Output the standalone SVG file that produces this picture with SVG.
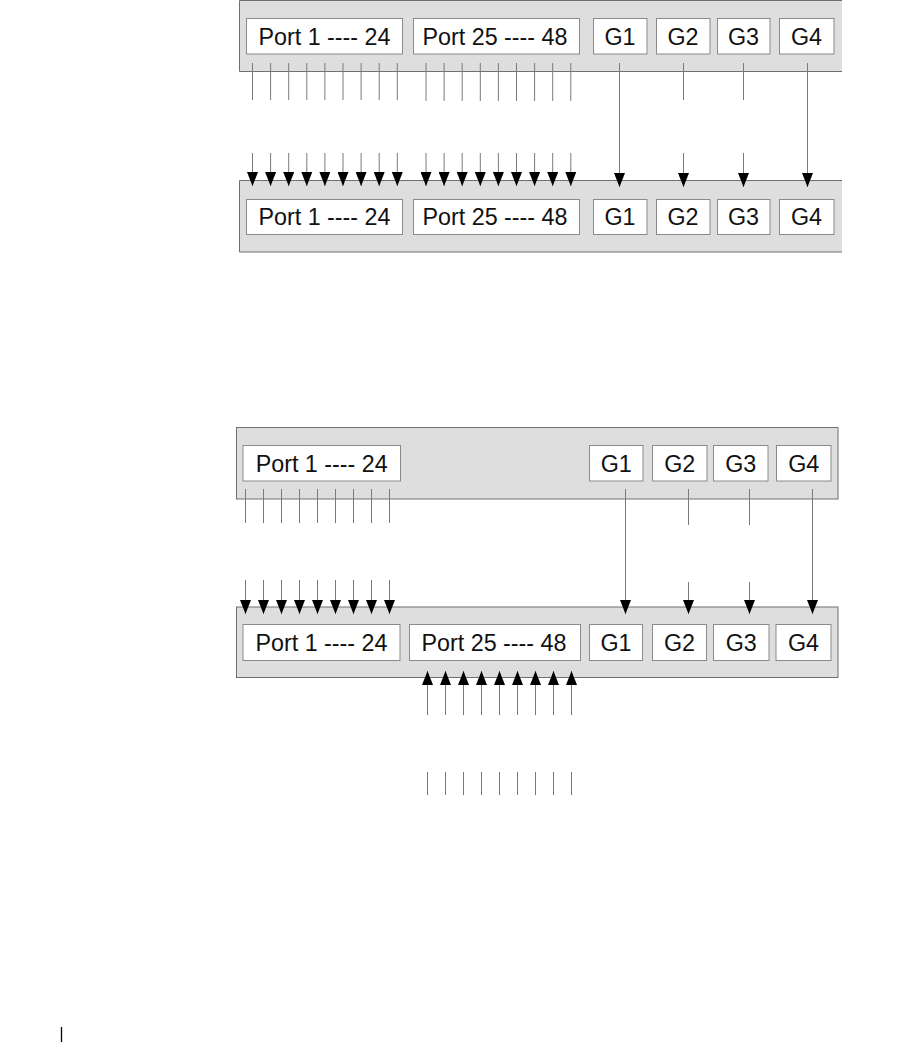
<svg xmlns="http://www.w3.org/2000/svg" width="900" height="1042" viewBox="0 0 900 1042">
<style>
.sw{fill:#dedede;stroke:#707070;stroke-width:1}
.swo{fill:none;stroke:#707070;stroke-width:1}
.swf{fill:#dedede;stroke:none}
.bx{fill:#ffffff;stroke:#8a8a8a;stroke-width:1}
.t{font-family:"Liberation Sans",Arial,sans-serif;font-size:23.3px;fill:#111;text-anchor:middle}
.c{stroke:#7a7a7a;stroke-width:1;fill:none}
.a{stroke:#7a7a7a;stroke-width:1;fill:none;marker-end:url(#ah)}
</style>
<defs>
<marker id="ah" markerUnits="userSpaceOnUse" markerWidth="14" markerHeight="11" viewBox="0 0 14 11" refX="14" refY="5.5" orient="auto">
<path d="M0,0 L14,5.5 L0,11 Z" fill="#000"/>
</marker>
</defs>
<rect width="900" height="1042" fill="#fff"/>

<g id="switch-a">
<rect class="swf" x="239.5" y="0.5" width="602.5" height="71"/>
<path class="swo" d="M842,0.5 H239.5 V71.5 H842"/>
<g id="a-p1"><rect class="bx" x="246.5" y="18.5" width="156" height="35.5"/><text class="t" x="324.5" y="44.5">Port 1 ---- 24</text></g>
<g id="a-p25"><rect class="bx" x="413.5" y="18.5" width="166" height="35.5"/><text class="t" x="495" y="44.5">Port 25 ---- 48</text></g>
<g id="a-g1"><rect class="bx" x="593.5" y="18.5" width="53.5" height="35.5"/><text class="t" x="620" y="44.5">G1</text></g>
<g id="a-g2"><rect class="bx" x="656.5" y="18.5" width="53.5" height="35.5"/><text class="t" x="683" y="44.5">G2</text></g>
<g id="a-g3"><rect class="bx" x="717.5" y="18.5" width="52.5" height="35.5"/><text class="t" x="743.5" y="44.5">G3</text></g>
<g id="a-g4"><rect class="bx" x="779.5" y="18.5" width="54.5" height="35.5"/><text class="t" x="806.5" y="44.5">G4</text></g>
</g>

<g id="switch-b">
<rect class="swf" x="239.5" y="180.5" width="602.5" height="71.5"/>
<path class="swo" d="M842,180.5 H239.5 V252 H842"/>
<g id="b-p1"><rect class="bx" x="246.5" y="199.5" width="156" height="35"/><text class="t" x="324.5" y="225.3">Port 1 ---- 24</text></g>
<g id="b-p25"><rect class="bx" x="413.5" y="199.5" width="166" height="35"/><text class="t" x="495" y="225.3">Port 25 ---- 48</text></g>
<g id="b-g1"><rect class="bx" x="593.5" y="199.5" width="53.5" height="35"/><text class="t" x="620" y="225.3">G1</text></g>
<g id="b-g2"><rect class="bx" x="656.5" y="199.5" width="53.5" height="35"/><text class="t" x="683" y="225.3">G2</text></g>
<g id="b-g3"><rect class="bx" x="717.5" y="199.5" width="52.5" height="35"/><text class="t" x="743.5" y="225.3">G3</text></g>
<g id="b-g4"><rect class="bx" x="779.5" y="199.5" width="54.5" height="35"/><text class="t" x="806.5" y="225.3">G4</text></g>
</g>

<g id="switch-c">
<rect class="sw" x="236.5" y="427.5" width="601.5" height="71.5"/>
<g id="c-p1"><rect class="bx" x="243" y="445.5" width="157.5" height="35.5"/><text class="t" x="321.7" y="471.5">Port 1 ---- 24</text></g>
<g id="c-g1"><rect class="bx" x="589.5" y="445.5" width="53.5" height="35.5"/><text class="t" x="616.2" y="471.5">G1</text></g>
<g id="c-g2"><rect class="bx" x="652.5" y="445.5" width="54.5" height="35.5"/><text class="t" x="679.7" y="471.5">G2</text></g>
<g id="c-g3"><rect class="bx" x="713.5" y="445.5" width="54.5" height="35.5"/><text class="t" x="740.7" y="471.5">G3</text></g>
<g id="c-g4"><rect class="bx" x="776.5" y="445.5" width="54.5" height="35.5"/><text class="t" x="803.7" y="471.5">G4</text></g>
</g>

<g id="switch-d">
<rect class="sw" x="236.5" y="607" width="601.5" height="70.5"/>
<g id="d-p1"><rect class="bx" x="243" y="624.5" width="157" height="36"/><text class="t" x="321.5" y="651">Port 1 ---- 24</text></g>
<g id="d-p25"><rect class="bx" x="409.5" y="624.5" width="171" height="36"/><text class="t" x="494" y="651">Port 25 ---- 48</text></g>
<g id="d-g1"><rect class="bx" x="589.5" y="624.5" width="53" height="36"/><text class="t" x="616" y="651">G1</text></g>
<g id="d-g2"><rect class="bx" x="652.5" y="624.5" width="54" height="36"/><text class="t" x="679.5" y="651">G2</text></g>
<g id="d-g3"><rect class="bx" x="713.5" y="624.5" width="55.5" height="36"/><text class="t" x="741.2" y="651">G3</text></g>
<g id="d-g4"><rect class="bx" x="776" y="624.5" width="55" height="36"/><text class="t" x="803.5" y="651">G4</text></g>
</g>

<g id="connectors">
<path class="c" d="M252.5,63V100M270.6,63V100M288.7,63V100M306.8,63V100M324.9,63V100M343,63V100M361.1,63V100M379.2,63V100M397.3,63V100"/>
<path class="c" d="M426,63V101M444.1,63V101M462.2,63V101M480.3,63V101M498.4,63V101M516.5,63V101M534.6,63V101M552.7,63V101M570.8,63V101"/>
<path class="c" d="M683.5,63V100M743.5,63V100"/>
<line class="a" x1="252.5" y1="153" x2="252.5" y2="186"/>
<line class="a" x1="270.6" y1="153" x2="270.6" y2="186"/>
<line class="a" x1="288.7" y1="153" x2="288.7" y2="186"/>
<line class="a" x1="306.8" y1="153" x2="306.8" y2="186"/>
<line class="a" x1="324.9" y1="153" x2="324.9" y2="186"/>
<line class="a" x1="343" y1="153" x2="343" y2="186"/>
<line class="a" x1="361.1" y1="153" x2="361.1" y2="186"/>
<line class="a" x1="379.2" y1="153" x2="379.2" y2="186"/>
<line class="a" x1="397.3" y1="153" x2="397.3" y2="186"/>
<line class="a" x1="426" y1="153" x2="426" y2="186"/>
<line class="a" x1="444.1" y1="153" x2="444.1" y2="186"/>
<line class="a" x1="462.2" y1="153" x2="462.2" y2="186"/>
<line class="a" x1="480.3" y1="153" x2="480.3" y2="186"/>
<line class="a" x1="498.4" y1="153" x2="498.4" y2="186"/>
<line class="a" x1="516.5" y1="153" x2="516.5" y2="186"/>
<line class="a" x1="534.6" y1="153" x2="534.6" y2="186"/>
<line class="a" x1="552.7" y1="153" x2="552.7" y2="186"/>
<line class="a" x1="570.8" y1="153" x2="570.8" y2="186"/>
<line class="a" x1="619.5" y1="63" x2="619.5" y2="187"/>
<line class="a" x1="683.5" y1="153" x2="683.5" y2="187"/>
<line class="a" x1="743.5" y1="153" x2="743.5" y2="187"/>
<line class="a" x1="807.5" y1="63" x2="807.5" y2="187"/>

<path class="c" d="M245.5,489V523M263.5,489V523M281.5,489V523M299.5,489V523M317.5,489V523M335.5,489V523M353.5,489V523M371.5,489V523M389.5,489V523"/>
<path class="c" d="M688.5,489V525M749.5,489V525"/>
<line class="a" x1="245.5" y1="580" x2="245.5" y2="614"/>
<line class="a" x1="263.5" y1="580" x2="263.5" y2="614"/>
<line class="a" x1="281.5" y1="580" x2="281.5" y2="614"/>
<line class="a" x1="299.5" y1="580" x2="299.5" y2="614"/>
<line class="a" x1="317.5" y1="580" x2="317.5" y2="614"/>
<line class="a" x1="335.5" y1="580" x2="335.5" y2="614"/>
<line class="a" x1="353.5" y1="580" x2="353.5" y2="614"/>
<line class="a" x1="371.5" y1="580" x2="371.5" y2="614"/>
<line class="a" x1="389.5" y1="580" x2="389.5" y2="614"/>
<line class="a" x1="625.5" y1="489" x2="625.5" y2="614"/>
<line class="a" x1="688.5" y1="582" x2="688.5" y2="614"/>
<line class="a" x1="749.5" y1="582" x2="749.5" y2="614"/>
<line class="a" x1="812.5" y1="489" x2="812.5" y2="614"/>
<line class="a" x1="427.5" y1="715" x2="427.5" y2="671"/>
<line class="a" x1="445.5" y1="715" x2="445.5" y2="671"/>
<line class="a" x1="463.5" y1="715" x2="463.5" y2="671"/>
<line class="a" x1="481.5" y1="715" x2="481.5" y2="671"/>
<line class="a" x1="499.5" y1="715" x2="499.5" y2="671"/>
<line class="a" x1="517.5" y1="715" x2="517.5" y2="671"/>
<line class="a" x1="535.5" y1="715" x2="535.5" y2="671"/>
<line class="a" x1="553.5" y1="715" x2="553.5" y2="671"/>
<line class="a" x1="571.5" y1="715" x2="571.5" y2="671"/>
<path class="c" d="M427.5,772V795M445.5,772V795M463.5,772V795M481.5,772V795M499.5,772V795M517.5,772V795M535.5,772V795M553.5,772V795M571.5,772V795"/>
</g>

<line x1="61.5" y1="1027" x2="61.5" y2="1042" stroke="#000" stroke-width="1.3"/>
</svg>
